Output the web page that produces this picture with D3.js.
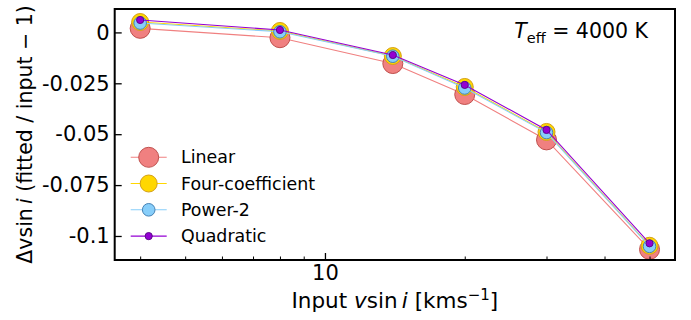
<!DOCTYPE html>
<html>
<head>
<meta charset="utf-8">
<script src="https://cdn.jsdelivr.net/npm/d3@7"></script>
<style>
  html, body { margin: 0; padding: 0; background: #fff; }
  svg { display: block; font-family: "DejaVu Sans", sans-serif; }
</style>
</head>
<body>
<svg id="chart" width="691" height="320"></svg>
<script>
// Input projected rotational velocities (km/s)
const vsini = [4, 8, 14, 20, 30, 50];

// Fractional vsin i offset for each limb-darkening law
const linear    = [0.0020, -0.0026, -0.0153, -0.0305, -0.0528, -0.1066];
const fourCoef  = [0.0051,  0.0007, -0.0116, -0.0268, -0.0489, -0.1048];
const power2    = [0.0046,  0.0003, -0.0117, -0.0273, -0.0492, -0.1051];
const quadratic = [0.0061,  0.0012, -0.0111, -0.0258, -0.0479, -0.1036];

const seriesNames = ["Linear", "Four-coefficient", "Power-2", "Quadratic"];

const yTicks = [0, -0.025, -0.05, -0.075, -0.1];
const yTickLabels = ["0", "-0.025", "-0.05", "-0.075", "-0.1"];
const xMajorTicks = [10];
const xMinorTicks = [4, 5, 6, 7, 8, 9, 20, 30, 40, 50];

const styles = [
  { fill: "#f08080", edge: "#c0504d", line: "#f08080", r: 10.0 },
  { fill: "#ffd700", edge: "#d4a017", line: "#ffd700", r: 8.5 },
  { fill: "#87cefa", edge: "#4682b4", line: "#87cefa", r: 6.3 },
  { fill: "#9400d3", edge: "#5b0a8a", line: "#9400d3", r: 3.6 }
];

const seriesValues = [linear, fourCoef, power2, quadratic];

const plot = { left: 114.7, right: 675, top: 9, bottom: 260 };
const FONT = "DejaVu Sans";
const svg = d3.select("#chart");

// log-space padding of 5% on each side of the data range
const lo = Math.log10(d3.min(vsini)), hi = Math.log10(d3.max(vsini));
const pad = (hi - lo) * 0.05;
const x = d3.scaleLog()
  .domain([Math.pow(10, lo - pad), Math.pow(10, hi + pad)])
  .range([plot.left, plot.right]);

const y = d3.scaleLinear()
  .domain([-0.1118, 0.0115])
  .range([plot.bottom, plot.top]);

// clip region for the data
svg.append("defs").append("clipPath").attr("id", "clip")
  .append("rect")
  .attr("x", plot.left).attr("y", plot.top)
  .attr("width", plot.right - plot.left).attr("height", plot.bottom - plot.top);

const dataLayer = svg.append("g").attr("clip-path", "url(#clip)");
const line = d3.line().x(d => x(d[0])).y(d => y(d[1]));

seriesValues.forEach((vals, i) => {
  const st = styles[i];
  const pts = vsini.map((v, j) => [v, vals[j]]);
  const g = dataLayer.append("g");
  g.append("path")
    .datum(pts)
    .attr("d", line)
    .attr("fill", "none")
    .attr("stroke", st.line)
    .attr("stroke-width", 1.1);
  g.selectAll("circle")
    .data(pts)
    .join("circle")
    .attr("cx", d => x(d[0]))
    .attr("cy", d => y(d[1]))
    .attr("r", st.r)
    .attr("fill", st.fill)
    .attr("stroke", st.edge)
    .attr("stroke-width", 1);
});

// axes frame
svg.append("rect")
  .attr("x", plot.left).attr("y", plot.top)
  .attr("width", plot.right - plot.left).attr("height", plot.bottom - plot.top)
  .attr("fill", "none").attr("stroke", "#000").attr("stroke-width", 2);

// y ticks (inward) and labels
const yAxis = d3.axisLeft(y)
  .tickValues(yTicks)
  .tickSizeInner(-7)
  .tickSizeOuter(0)
  .tickPadding(5)
  .tickFormat((d, i) => yTickLabels[i]);
const gy = svg.append("g")
  .attr("transform", `translate(${plot.left},0)`)
  .call(yAxis);
gy.select(".domain").remove();
gy.selectAll(".tick line").attr("stroke", "#000").attr("stroke-width", 1.3);
gy.selectAll(".tick text")
  .style("font-size", "21px")
  .style("font-family", FONT)
  .attr("fill", "#000");

// x ticks (inward), major and minor
const xAxisMajor = d3.axisBottom(x)
  .tickValues(xMajorTicks)
  .tickSizeInner(-7)
  .tickSizeOuter(0)
  .tickPadding(5)
  .tickFormat(d3.format("d"));
const gx = svg.append("g")
  .attr("transform", `translate(0,${plot.bottom})`)
  .call(xAxisMajor);
gx.select(".domain").remove();
gx.selectAll(".tick line").attr("stroke", "#000").attr("stroke-width", 1.3);
gx.selectAll(".tick text")
  .style("font-size", "21px")
  .style("font-family", FONT)
  .attr("fill", "#000");

const xAxisMinor = d3.axisBottom(x)
  .tickValues(xMinorTicks)
  .tickSizeInner(-3.5)
  .tickSizeOuter(0)
  .tickFormat("");
const gxm = svg.append("g")
  .attr("transform", `translate(0,${plot.bottom})`)
  .call(xAxisMinor);
gxm.select(".domain").remove();
gxm.selectAll(".tick line").attr("stroke", "#000").attr("stroke-width", 1);

// x axis title
const xt = svg.append("text")
  .attr("x", (plot.left + plot.right) / 2)
  .attr("y", 308)
  .attr("text-anchor", "middle")
  .style("font-size", "21.5px")
  .style("font-family", FONT)
  .attr("fill", "#000");
xt.append("tspan").text("Input ");
xt.append("tspan").attr("font-style", "italic").text("v");
xt.append("tspan").text("sin\u2009");
xt.append("tspan").attr("font-style", "italic").text("i");
xt.append("tspan").text(" [kms");
xt.append("tspan").style("font-size", "15px").attr("dy", -8).text("\u22121");
xt.append("tspan").attr("dy", 8).text("]");

// y axis title
const yt = svg.append("text")
  .attr("transform", `translate(31.5,${(plot.top + plot.bottom) / 2}) rotate(-90)`)
  .attr("text-anchor", "middle")
  .style("font-size", "20.5px")
  .style("font-family", FONT)
  .attr("fill", "#000");
yt.append("tspan").text("\u0394vsin\u2009");
yt.append("tspan").attr("font-style", "italic").text("i");
yt.append("tspan").text(" (fitted / input \u2212 1)");

// temperature annotation
const tl = svg.append("text")
  .attr("x", 648)
  .attr("y", 37.5)
  .attr("text-anchor", "end")
  .style("font-size", "20.5px")
  .style("font-family", FONT)
  .attr("fill", "#000");
tl.append("tspan").attr("font-style", "italic").text("T");
tl.append("tspan").style("font-size", "14.5px").attr("dy", 5).text("eff");
tl.append("tspan").attr("dy", -5).text(" = 4000 K");

// legend
const legendRows = [157.3, 183.5, 209.8, 236.1];
const lg = svg.append("g");
seriesNames.forEach((name, i) => {
  const st = styles[i];
  const cy = legendRows[i];
  lg.append("line")
    .attr("x1", 130.7).attr("x2", 166.7)
    .attr("y1", cy).attr("y2", cy)
    .attr("stroke", st.line).attr("stroke-width", 1.1);
  lg.append("circle")
    .attr("cx", 148.7).attr("cy", cy).attr("r", st.r)
    .attr("fill", st.fill).attr("stroke", st.edge).attr("stroke-width", 1);
  lg.append("text")
    .attr("x", 181).attr("y", cy)
    .attr("dominant-baseline", "central")
    .style("font-size", "17.4px")
    .style("font-family", FONT)
    .attr("fill", "#000")
    .text(name);
});
</script>
</body>
</html>
